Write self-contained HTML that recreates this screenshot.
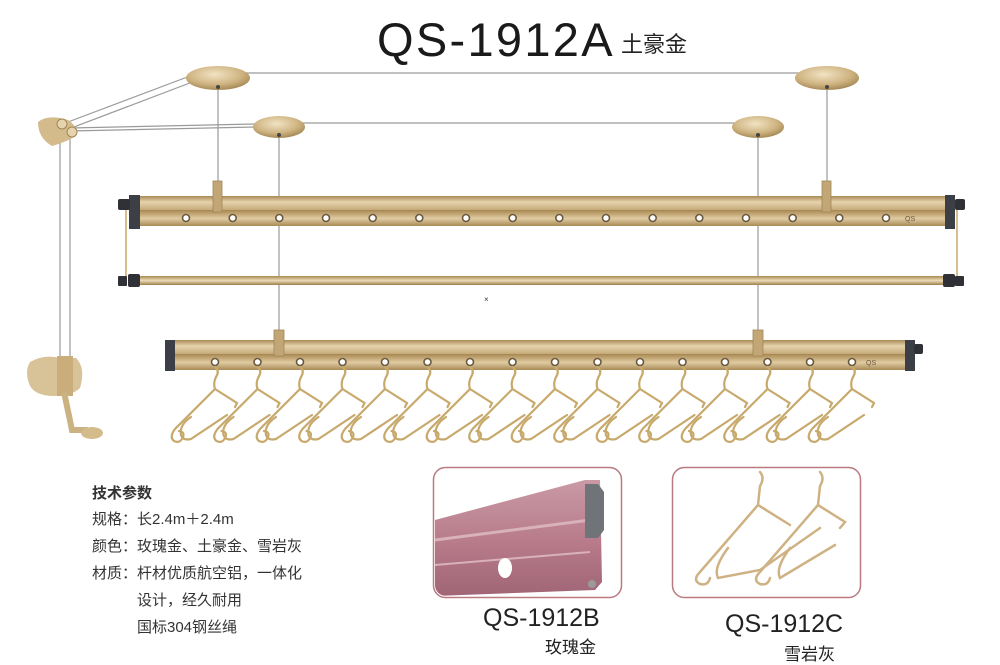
<!DOCTYPE html>
<html><head><meta charset="utf-8"><style>
html,body{margin:0;padding:0;background:#fff;}
body{width:1000px;height:663px;overflow:hidden;position:relative;font-family:"Liberation Sans","Noto Sans CJK SC",sans-serif;}
.t{position:absolute;color:#222;white-space:nowrap;}
</style></head><body>
<svg width="1000" height="663" viewBox="0 0 1000 663" style="position:absolute;left:0;top:0">
<defs>
<linearGradient id="bar" x1="0" y1="0" x2="0" y2="1">
<stop offset="0" stop-color="#a98a55"/><stop offset="0.2" stop-color="#e6d3ad"/><stop offset="0.45" stop-color="#c8ad7c"/><stop offset="0.55" stop-color="#b89a66"/><stop offset="0.75" stop-color="#e0cba2"/><stop offset="1" stop-color="#a88a56"/>
</linearGradient>
<linearGradient id="rod" x1="0" y1="0" x2="0" y2="1">
<stop offset="0" stop-color="#a8884f"/><stop offset="0.5" stop-color="#ecdcb9"/><stop offset="1" stop-color="#9e7f4a"/>
</linearGradient>
<radialGradient id="disc" cx="0.45" cy="0.35" r="0.7">
<stop offset="0" stop-color="#f1e3c3"/><stop offset="0.6" stop-color="#cfb482"/><stop offset="1" stop-color="#9c7f4c"/>
</radialGradient>
<linearGradient id="pink" x1="0" y1="0" x2="0" y2="1">
<stop offset="0" stop-color="#c99aa6"/><stop offset="0.5" stop-color="#b97d8c"/><stop offset="1" stop-color="#a06576"/>
</linearGradient>
<g id="hanger" fill="none" stroke="#c8a96c" stroke-width="2.2" stroke-linecap="round">
<path d="M0,0 q5,4 1,10 q-3,6 -1,12"/>
<path d="M0,22 L-40,62 q-6,8 -1,12 q6,3 9,-4 q2,-5 -4,-6"/>
<path d="M0,22 L22,36 L20,40"/>
<path d="M-24,50 q-12,8 -10,18 q2,6 10,4 L12,48"/>
</g>
</defs>

<g stroke="#9a9a9a" stroke-width="1.2" fill="none">
<line x1="218" y1="73" x2="827" y2="73"/>
<line x1="279" y1="123" x2="758" y2="123"/>
<line x1="60" y1="125" x2="190" y2="76"/>
<line x1="66" y1="130" x2="195" y2="81"/>
<line x1="70" y1="131" x2="255" y2="127"/>
<line x1="70" y1="128" x2="255" y2="124"/>
<line x1="60" y1="138" x2="60" y2="360"/>
<line x1="70" y1="138" x2="70" y2="360"/>
<line x1="218" y1="88" x2="218" y2="196"/>
<line x1="827" y1="88" x2="827" y2="196"/>
<line x1="279" y1="136" x2="279" y2="340"/>
<line x1="758" y1="136" x2="758" y2="340"/>
</g>

<ellipse cx="218" cy="78" rx="32" ry="12" fill="url(#disc)"/>
<ellipse cx="827" cy="78" rx="32" ry="12" fill="url(#disc)"/>
<ellipse cx="279" cy="127" rx="26" ry="11" fill="url(#disc)"/>
<ellipse cx="758" cy="127" rx="26" ry="11" fill="url(#disc)"/>
<circle cx="218" cy="87" r="2" fill="#444"/><circle cx="827" cy="87" r="2" fill="#444"/>
<circle cx="279" cy="135" r="2" fill="#444"/><circle cx="758" cy="135" r="2" fill="#444"/>

<line x1="126" y1="205" x2="126" y2="282" stroke="#c8a96c" stroke-width="1.5"/>
<line x1="957" y1="205" x2="957" y2="282" stroke="#c8a96c" stroke-width="1.5"/>
<rect x="130" y="196" width="820" height="30" fill="url(#bar)"/>
<rect x="130" y="210" width="820" height="1.5" fill="#a88a55"/>
<rect x="129" y="195" width="11" height="34" fill="#3c3f46"/>
<rect x="118" y="199" width="12" height="11" rx="2" fill="#2f3137"/>
<rect x="945" y="195" width="10" height="34" fill="#3c3f46"/>
<rect x="955" y="199" width="10" height="11" rx="2" fill="#2f3137"/>
<g fill="#fff" stroke="#6b5a40" stroke-width="1.6">
<circle cx="186" cy="218" r="3.5"/><circle cx="232.7" cy="218" r="3.5"/><circle cx="279.3" cy="218" r="3.5"/><circle cx="326" cy="218" r="3.5"/><circle cx="372.7" cy="218" r="3.5"/><circle cx="419.3" cy="218" r="3.5"/><circle cx="466" cy="218" r="3.5"/><circle cx="512.7" cy="218" r="3.5"/><circle cx="559.3" cy="218" r="3.5"/><circle cx="606" cy="218" r="3.5"/><circle cx="652.7" cy="218" r="3.5"/><circle cx="699.3" cy="218" r="3.5"/><circle cx="746" cy="218" r="3.5"/><circle cx="792.7" cy="218" r="3.5"/><circle cx="839.3" cy="218" r="3.5"/><circle cx="886" cy="218" r="3.5"/>
</g>
<rect x="213" y="181" width="9" height="31" fill="#c2a676" stroke="#a08657" stroke-width="0.8"/>
<rect x="822" y="181" width="9" height="31" fill="#c2a676" stroke="#a08657" stroke-width="0.8"/>
<text x="905" y="221" font-size="7" fill="#6b5a40">QS</text>

<rect x="135" y="276" width="812" height="9" fill="url(#rod)"/>
<rect x="128" y="274" width="12" height="13" rx="2" fill="#2f3137"/>
<rect x="118" y="276" width="9" height="10" rx="1" fill="#2f3137"/>
<rect x="943" y="274" width="12" height="13" rx="2" fill="#2f3137"/>
<rect x="955" y="276" width="9" height="10" rx="1" fill="#2f3137"/>
<text x="484" y="302" font-size="8" fill="#333">×</text>

<rect x="170" y="340" width="740" height="30" fill="url(#bar)"/>
<rect x="170" y="354" width="740" height="1.5" fill="#a88a55"/>
<rect x="165" y="340" width="10" height="31" fill="#3c3f46"/>
<rect x="905" y="340" width="10" height="31" fill="#3c3f46"/>
<rect x="914" y="344" width="9" height="10" rx="2" fill="#2f3137"/>
<rect x="274" y="330" width="10" height="26" fill="#c2a676" stroke="#a08657" stroke-width="0.8"/>
<rect x="753" y="330" width="10" height="26" fill="#c2a676" stroke="#a08657" stroke-width="0.8"/>
<g fill="#fff" stroke="#6b5a40" stroke-width="1.6">
<circle cx="215" cy="362" r="3.5"/><circle cx="257.5" cy="362" r="3.5"/><circle cx="300" cy="362" r="3.5"/><circle cx="342.5" cy="362" r="3.5"/><circle cx="385" cy="362" r="3.5"/><circle cx="427.5" cy="362" r="3.5"/><circle cx="470" cy="362" r="3.5"/><circle cx="512.5" cy="362" r="3.5"/><circle cx="555" cy="362" r="3.5"/><circle cx="597.5" cy="362" r="3.5"/><circle cx="640" cy="362" r="3.5"/><circle cx="682.5" cy="362" r="3.5"/><circle cx="725" cy="362" r="3.5"/><circle cx="767.5" cy="362" r="3.5"/><circle cx="810" cy="362" r="3.5"/><circle cx="852" cy="362" r="3.5"/>
</g>
<text x="866" y="365" font-size="7" fill="#6b5a40">QS</text>

<use href="#hanger" x="215" y="367"/><use href="#hanger" x="257.5" y="367"/><use href="#hanger" x="300" y="367"/><use href="#hanger" x="342.5" y="367"/><use href="#hanger" x="385" y="367"/><use href="#hanger" x="427.5" y="367"/><use href="#hanger" x="470" y="367"/><use href="#hanger" x="512.5" y="367"/><use href="#hanger" x="555" y="367"/><use href="#hanger" x="597.5" y="367"/><use href="#hanger" x="640" y="367"/><use href="#hanger" x="682.5" y="367"/><use href="#hanger" x="725" y="367"/><use href="#hanger" x="767.5" y="367"/><use href="#hanger" x="810" y="367"/><use href="#hanger" x="852" y="367"/>

<path d="M38,122 q10,-8 30,-2 q10,6 8,16 q-10,6 -24,10 q-14,-8 -14,-24z" fill="#d3bb8b"/>
<circle cx="62" cy="124" r="5" fill="#e6d4ad" stroke="#a08657"/>
<circle cx="72" cy="132" r="5" fill="#e6d4ad" stroke="#a08657"/>
<path d="M30,362 q14,-8 30,-4 l16,0 q10,10 4,30 q-8,8 -26,8 q-18,0 -24,-10 q-6,-14 0,-24z" fill="#d8c398"/>
<rect x="57" y="356" width="16" height="40" fill="#c9ad7a"/>
<path d="M64,392 L72,430 L88,430" stroke="#cbb283" stroke-width="6" fill="none"/>
<ellipse cx="92" cy="433" rx="11" ry="6" fill="#d3bb8b"/>

<rect x="433.5" y="467.5" width="188" height="130" rx="12" fill="#fff" stroke="#b97a80" stroke-width="1.5"/>
<clipPath id="c1"><rect x="435" y="469" width="185" height="127" rx="11"/></clipPath>
<g clip-path="url(#c1)">
<path d="M435,520 L585,480 L600,480 L602,582 L595,590 L435,596z" fill="url(#pink)"/>
<path d="M435,540 L590,520" stroke="#d8b1bb" stroke-width="3"/>
<path d="M435,565 L590,552" stroke="#d8b1bb" stroke-width="2"/>
<path d="M585,484 L598,484 L604,492 L604,530 L598,538 L585,538z" fill="#707478"/>
<ellipse cx="505" cy="568" rx="7" ry="10" fill="#fff"/>
<circle cx="592" cy="584" r="4" fill="#9a9a9a"/>
</g>
<rect x="672.5" y="467.5" width="188" height="130" rx="12" fill="#fff" stroke="#b97a80" stroke-width="1.5"/>
<g fill="none" stroke="#cfb283" stroke-width="2.5" stroke-linecap="round">
<path d="M760,472 q5,6 0,14 L758,505 L700,572 q-8,8 0,12 q8,2 10,-6"/>
<path d="M758,505 L790,525"/>
<path d="M728,548 q-15,20 -10,30 L760,570 L820,528"/>
<path d="M820,472 q5,6 0,14 L818,505 L760,572 q-8,8 0,12 q8,2 10,-6"/>
<path d="M818,505 L845,522 L840,528"/>
<path d="M790,548 q-15,20 -10,30 L835,545"/>
</g>
</svg>

<div class="t" style="left:377px;top:12px;font-size:47px;letter-spacing:2.3px;color:#1a1a1a;">QS-1912A</div>
<div class="t" style="left:621px;top:27px;font-size:22px;">土豪金</div>

<div class="t" style="left:92px;top:482px;font-size:15px;font-weight:bold;color:#333;">技术参数</div>
<div class="t" style="left:92px;top:506px;font-size:15px;color:#333;line-height:27px;">规格：长2.4m＋2.4m<br>颜色：玫瑰金、土豪金、雪岩灰<br>材质：杆材优质航空铝，一体化<br>&emsp;&emsp;&emsp;设计，经久耐用<br>&emsp;&emsp;&emsp;国标304钢丝绳</div>

<div class="t" style="left:483px;top:604px;font-size:25px;">QS-1912B</div>
<div class="t" style="left:545px;top:633px;font-size:17px;">玫瑰金</div>
<div class="t" style="left:725px;top:610px;font-size:25px;">QS-1912C</div>
<div class="t" style="left:784px;top:640px;font-size:17px;">雪岩灰</div>
</body></html>
